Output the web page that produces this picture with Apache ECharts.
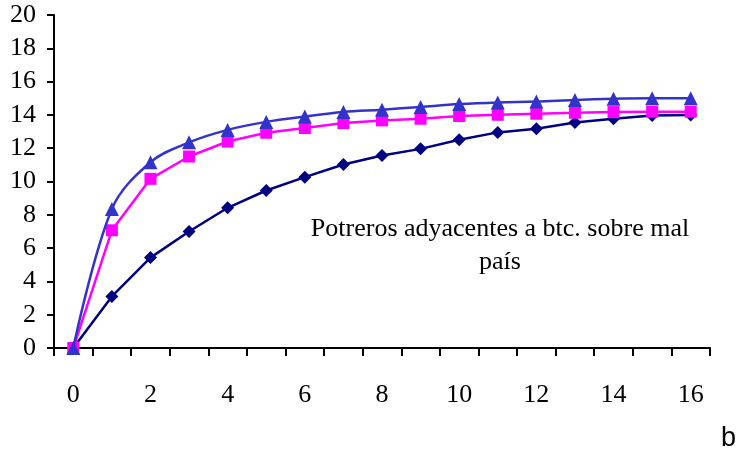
<!DOCTYPE html>
<html>
<head>
<meta charset="utf-8">
<script src="https://cdn.jsdelivr.net/npm/echarts@6/dist/echarts.min.js"></script>
<style>
  html, body { margin: 0; padding: 0; background: #fff; }
  #chart { width: 742px; height: 452px; }
</style>
</head>
<body>
<div id="chart"></div>
<script>
// Days (b) on the horizontal axis
const categories = ['0','1','2','3','4','5','6','7','8','9','10','11','12','13','14','15','16'];

// Cumulative curves
const seriesDiamond = [0, 3.1, 5.43, 7.0, 8.42, 9.46, 10.26, 11.02, 11.56, 11.96, 12.51, 12.95, 13.17, 13.55, 13.77, 13.97, 14.0];
const seriesSquare  = [0, 7.07, 10.16, 11.5, 12.4, 12.93, 13.21, 13.51, 13.67, 13.77, 13.93, 14.01, 14.07, 14.13, 14.17, 14.19, 14.19];
const seriesTriangle = [0, 8.35, 11.16, 12.35, 13.1, 13.58, 13.9, 14.17, 14.31, 14.48, 14.65, 14.75, 14.8, 14.9, 14.97, 15.0, 15.0];

const yTicks = { min: 0, max: 20, interval: 2 };

const noteText = 'Potreros adyacentes a btc. sobre mal\npaís';
const axisName = 'b';

const serif = '"Liberation Serif", "Times New Roman", serif';

const chart = echarts.init(document.getElementById('chart'), null, { renderer: 'canvas' });

chart.setOption({
  animation: false,
  backgroundColor: '#ffffff',
  grid: { left: 54, right: 32, top: 15, bottom: 104, containLabel: false },
  xAxis: {
    type: 'category',
    data: categories,
    boundaryGap: true,
    axisLine: { lineStyle: { color: '#000', width: 2 } },
    axisTick: { show: true, interval: 0, length: 8, lineStyle: { color: '#000', width: 2 } },
    axisLabel: { interval: 1, margin: 34, color: '#000', fontFamily: serif, fontSize: 26 },
    splitLine: { show: false }
  },
  yAxis: {
    type: 'value',
    min: yTicks.min,
    max: yTicks.max,
    interval: yTicks.interval,
    axisLine: { show: true, lineStyle: { color: '#000', width: 2 } },
    axisTick: { show: true, length: 7, lineStyle: { color: '#000', width: 2 } },
    axisLabel: { margin: 18, color: '#000', fontFamily: serif, fontSize: 26 },
    splitLine: { show: false }
  },
  series: [
    {
      type: 'line',
      data: seriesDiamond,
      symbol: 'diamond',
      symbolSize: 13,
      lineStyle: { color: '#000080', width: 2.5 },
      itemStyle: { color: '#000080' },
      z: 2
    },
    {
      type: 'line',
      data: seriesSquare,
      symbol: 'rect',
      symbolSize: 12,
      lineStyle: { color: '#ff00ff', width: 2.5 },
      itemStyle: { color: '#ff00ff' },
      z: 3
    },
    {
      type: 'line',
      data: seriesTriangle,
      smooth: 0.35,
      symbol: 'triangle',
      symbolSize: 14,
      lineStyle: { color: '#3333cc', width: 2.5 },
      itemStyle: { color: '#3333cc' },
      z: 4
    }
  ],
  graphic: [
    {
      type: 'text',
      position: [500, 213],
      style: {
        text: noteText,
        fill: '#000',
        font: '26px ' + serif,
        align: 'center',
        lineHeight: 33
      }
    },
    {
      type: 'text',
      position: [721, 425],
      style: {
        text: axisName,
        fill: '#000',
        font: '27px "Liberation Sans", Arial, sans-serif'
      }
    }
  ]
});
</script>
</body>
</html>
